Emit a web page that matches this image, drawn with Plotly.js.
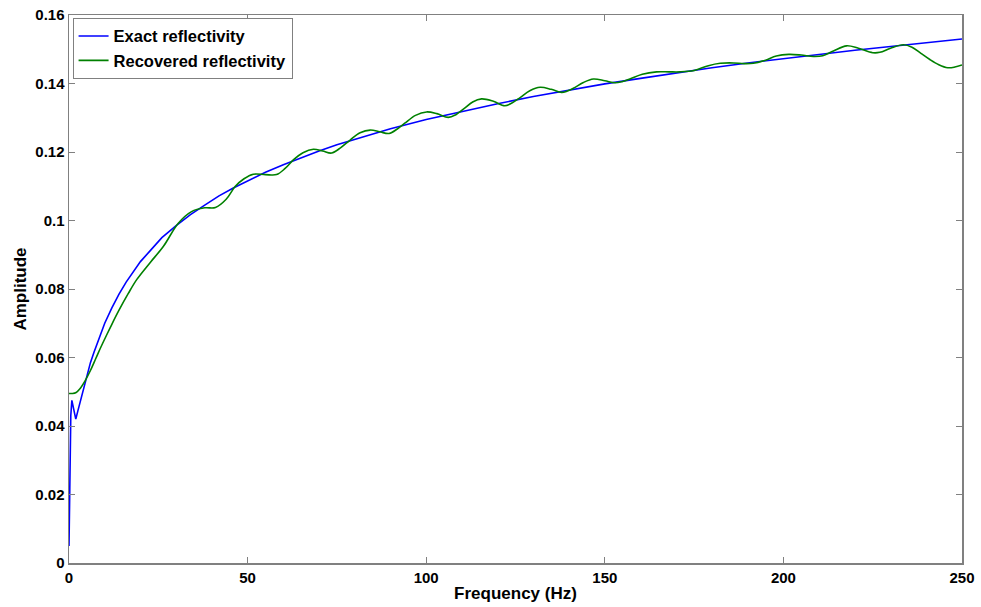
<!DOCTYPE html>
<html>
<head>
<meta charset="utf-8">
<script src="https://cdn.plot.ly/plotly-3.0.1.min.js"></script>
<style>html,body{margin:0;padding:0;background:#fff;}#chart{width:981px;height:607px;}</style>
</head>
<body>
<div id="chart"></div>
<script>
// Exact reflectivity (blue)
const exactFreq = [0, 0.1, 0.2, 0.35, 0.5, 0.8, 1.2, 1.6, 1.9, 2.5, 3, 4, 5, 6, 7, 8, 9, 10, 12, 14, 16, 18, 20, 23, 26, 30, 34, 38, 42, 46, 50, 55, 60, 65, 70, 75, 80, 90, 100, 110, 120, 130, 140, 150, 160, 170, 180, 190, 200, 210, 220, 230, 240, 250];
const exactAmp = [0.005, 0.015, 0.026, 0.037, 0.043, 0.0475, 0.0455, 0.0425, 0.042, 0.0445, 0.0465, 0.051, 0.0545, 0.0585, 0.0615, 0.0645, 0.0675, 0.070, 0.0745, 0.0785, 0.082, 0.085, 0.088, 0.0915, 0.095, 0.0985, 0.1017, 0.1045, 0.1072, 0.1095, 0.1116, 0.1141, 0.1163, 0.1184, 0.1203, 0.1221, 0.1237, 0.1268, 0.1295, 0.1319, 0.1341, 0.1362, 0.1381, 0.1399, 0.1415, 0.1431, 0.1446, 0.146, 0.1473, 0.1485, 0.1497, 0.1508, 0.1519, 0.153];

// Recovered reflectivity (green)
const recFreq = [0, 1, 2, 3, 4.5, 6, 7.5, 9, 10.5, 12, 14, 16.6, 19, 22.7, 26.4, 30.6, 34.3, 38, 41, 44, 46.5, 49, 51.6, 55, 58.1, 60.5, 62.8, 65.5, 68.4, 71, 73.5, 76, 78.7, 81.5, 84.3, 87, 89.6, 92, 94, 97, 100.1, 103, 106.2, 108.3, 110.4, 113, 115.5, 118.8, 122, 124, 126.3, 129, 131.9, 135, 137.9, 139.5, 141.2, 144, 146.8, 150, 152.9, 155, 157, 160.5, 164.5, 168, 171, 175, 179, 182.3, 186, 189, 191.6, 195, 198, 201.5, 205, 208.4, 211, 214, 217.7, 221, 225, 227, 230, 233.6, 236, 238.5, 241, 243.5, 246, 248, 250];
const recAmp = [0.0495, 0.0495, 0.0498, 0.0508, 0.0532, 0.0562, 0.0597, 0.0632, 0.0665, 0.0697, 0.0738, 0.0787, 0.0828, 0.0877, 0.0924, 0.0992, 0.1026, 0.1037, 0.1038, 0.1062, 0.1099, 0.1122, 0.1135, 0.1134, 0.1134, 0.1152, 0.1177, 0.1198, 0.1208, 0.1203, 0.1197, 0.1212, 0.1235, 0.1256, 0.1264, 0.1259, 0.1254, 0.1268, 0.1284, 0.1307, 0.1317, 0.1312, 0.1301, 0.1309, 0.1325, 0.1346, 0.1355, 0.1348, 0.1335, 0.1343, 0.1359, 0.1379, 0.1389, 0.1383, 0.1374, 0.1378, 0.1386, 0.1403, 0.1413, 0.1408, 0.1402, 0.1406, 0.1413, 0.1427, 0.1434, 0.1434, 0.1434, 0.1438, 0.1452, 0.1459, 0.146, 0.1458, 0.1459, 0.1468, 0.148, 0.1485, 0.1483, 0.1479, 0.1481, 0.1495, 0.151, 0.1503, 0.149, 0.1491, 0.1503, 0.1513, 0.1506, 0.1488, 0.147, 0.1455, 0.1446, 0.1448, 0.1454];

const xTicks = [0, 50, 100, 150, 200, 250];
const yTicks = [0, 0.02, 0.04, 0.06, 0.08, 0.1, 0.12, 0.14, 0.16];
const xTickText = ['0', '50', '100', '150', '200', '250'];
const yTickText = ['0', '0.02', '0.04', '0.06', '0.08', '0.1', '0.12', '0.14', '0.16'];

const FONT = 'Liberation Sans, Arial, Helvetica, sans-serif';

const traces = [
  {x: exactFreq, y: exactAmp, type: 'scatter', mode: 'lines', name: 'Exact reflectivity',
   line: {color: '#0000ff', width: 1.6}},
  {x: recFreq, y: recAmp, type: 'scatter', mode: 'lines', name: 'Recovered reflectivity',
   line: {color: '#008000', width: 1.6, shape: 'spline', smoothing: 1}}
];

const axisCommon = {
  showline: true, linecolor: '#808080', linewidth: 1.5, mirror: 'ticks',
  ticks: 'inside', ticklen: 6, tickcolor: '#808080', tickwidth: 1,
  showgrid: false, zeroline: false,
  tickfont: {family: FONT, size: 15, color: '#000', weight: 'bold'}
};

const layout = {
  width: 981, height: 607,
  margin: {l: 69, r: 19, t: 15, b: 44},
  paper_bgcolor: '#fff', plot_bgcolor: '#fff',
  showlegend: true,
  legend: {
    x: 0.004, y: 0.995, xanchor: 'left', yanchor: 'top',
    bgcolor: '#fff', bordercolor: '#808080', borderwidth: 1,
    font: {family: FONT, size: 16.5, color: '#000', weight: 'bold'},
    tracegroupgap: 0, itemwidth: 30
  },
  xaxis: Object.assign({}, axisCommon, {
    range: [0, 250], tickvals: xTicks, ticktext: xTickText,
    title: {text: 'Frequency (Hz)', font: {family: FONT, size: 17, color: '#000', weight: 'bold'}, standoff: 2}
  }),
  yaxis: Object.assign({}, axisCommon, {
    range: [0, 0.16], tickvals: yTicks, ticktext: yTickText,
    title: {text: 'Amplitude', font: {family: FONT, size: 17, color: '#000', weight: 'bold'}, standoff: 4}
  })
};

Plotly.newPlot('chart', traces, layout, {displayModeBar: false, staticPlot: true});
</script>
</body>
</html>
